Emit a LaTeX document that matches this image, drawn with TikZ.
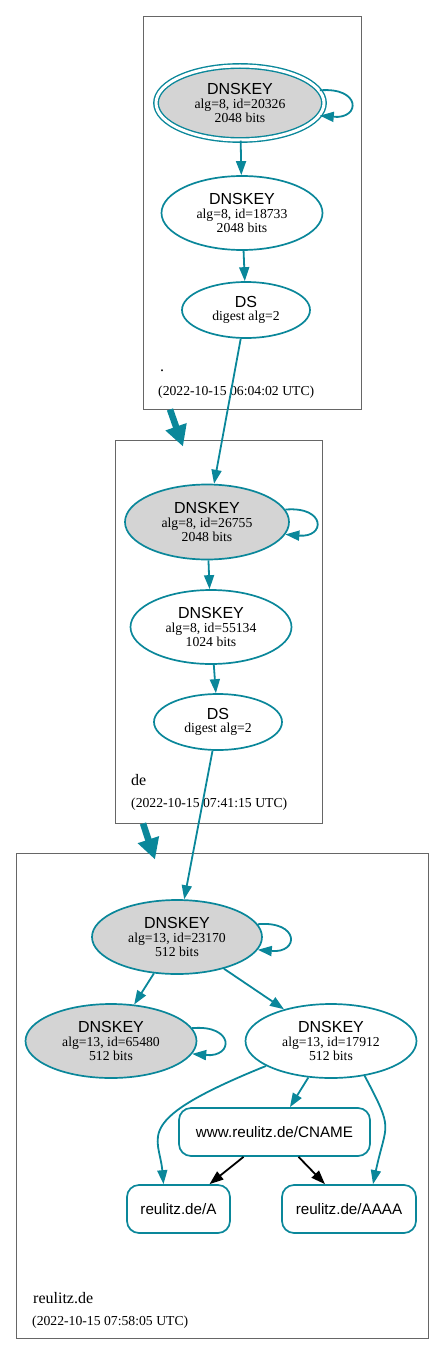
\documentclass[tikz,border=0pt]{standalone}
\usepackage{fontspec}
\setmainfont{Liberation Serif}
\setsansfont{Liberation Sans}
\usepackage{tikz}
\usetikzlibrary{arrows.meta,shapes}
\definecolor{dnsteal}{HTML}{0A879A}
\def\dnskey#1#2#3{{\sffamily\fontsize{16}{16}\selectfont DNSKEY}\\alg=#1, id=#2\\#3 bits}
\def\dsrec#1{{\sffamily\fontsize{16}{16}\selectfont DS}\\digest alg=#1}

\begin{document}
\begin{tikzpicture}[x=1pt,y=1pt,->,>={Triangle[length=14pt,width=10pt]},
    every edge/.style={draw=dnsteal,line width=1.8pt},
    key node/.style={ellipse,draw=dnsteal,line width=1.7pt,fill=white,minimum width=161pt,minimum height=74pt,
                     inner sep=0pt,align=center,font=\fontsize{13.7}{13.6}\selectfont},
    ksk node/.style={key node,fill=black!17},
    ds node/.style={key node,minimum width=128pt,minimum height=56pt},
    rr node/.style={rectangle,rounded corners=12pt,draw=dnsteal,line width=1.7pt,minimum height=48pt,
                    inner sep=0pt,font=\sffamily\fontsize{15.2}{16}\selectfont},
    zone/.style={rectangle,draw=black!60,line width=0.9pt,inner sep=0pt},
    zone text/.style={anchor=base west,inner sep=0pt,font=\fontsize{16}{16}\selectfont},
    stamp/.style={anchor=base west,inner sep=0pt,font=\fontsize{13.7}{14}\selectfont},
    self loop/.style={out=5,in=-5,looseness=4.2},
    zone arrow/.style={draw=dnsteal,line width=6.5pt,-{Triangle[length=21pt,width=21pt]}}]
  \useasboundingbox (0,0) rectangle (444,-1356);

  % zones
  \node[zone,minimum width=218pt,minimum height=393pt] (z1) at (252,-212.5) {};
  \node[zone,minimum width=207pt,minimum height=383pt] (z2) at (218.5,-631.5) {};
  \node[zone,minimum width=412pt,minimum height=485pt] (z3) at (222,-1095.5) {};
  \node[zone text] (l1) at (160,-371) {.};
  \node[stamp] (t1) at (158,-395) {(2022-10-15 06:04:02 UTC)};
  \node[zone text] (l2) at (131,-785) {de};
  \node[stamp] (t2) at (131,-807) {(2022-10-15 07:41:15 UTC)};
  \node[zone text] (l3) at (33,-1303) {reulitz.de};
  \node[stamp] (t3) at (32,-1325) {(2022-10-15 07:58:05 UTC)};

  % keys and records
  \node[ksk node,double,double distance=3pt,line width=1.4pt,minimum width=168pt] (1) at (240,-103) {\dnskey{8}{20326}{2048}};
  \node[key node] (2) at (242,-213) {\dnskey{8}{18733}{2048}};
  \node[ds node] (3) at (246,-310) {\dsrec{2}};
  \node[ksk node,minimum width=164pt,minimum height=75pt] (4) at (207,-522) {\dnskey{8}{26755}{2048}};
  \node[key node] (5) at (211,-627) {\dnskey{8}{55134}{1024}};
  \node[ds node] (6) at (218,-722) {\dsrec{2}};
  \node[ksk node,minimum width=170pt] (7) at (177,-937) {\dnskey{13}{23170}{512}};
  \node[ksk node,minimum width=171pt] (8) at (111,-1041) {\dnskey{13}{65480}{512}};
  \node[key node,minimum width=171pt] (9) at (331,-1041) {\dnskey{13}{17912}{512}};
  \node[rr node,minimum width=191pt] (10) at (274.5,-1132) {www.reulitz.de/CNAME};
  \node[rr node,minimum width=103pt] (11) at (178.5,-1209) {reulitz.de/A};
  \node[rr node,minimum width=134pt] (12) at (349,-1209) {reulitz.de/AAAA};

  \path
   (1.9) edge[self loop] (1.-9)
   (1) edge (2)
   (2) edge (3)
   (3) edge (4)
   (4.9) edge[self loop] (4.-9)
   (4) edge (5)
   (5) edge (6)
   (6) edge (7)
   (7.9) edge[self loop] (7.-9)
   (7) edge (8)
   (7) edge (9)
   (8.9) edge[self loop] (8.-9)
   (9) edge (10)
   (9.201) edge[out=202,in=95,out looseness=2.4,in looseness=0.8] ([xshift=-15pt]11.north)
   (9.-46) edge[out=-62,in=78,looseness=1.5] ([xshift=24pt]12.north)
   (10) edge[draw=black] (11)
   (10) edge[draw=black] (12);

  \draw[zone arrow] ([xshift=-82pt]z1.south) -- ([xshift=-35.5pt,yshift=-7pt]z2.north);
  \draw[zone arrow] ([xshift=-75.5pt]z2.south) -- ([xshift=-67pt,yshift=-7pt]z3.north);
\end{tikzpicture}
\end{document}
